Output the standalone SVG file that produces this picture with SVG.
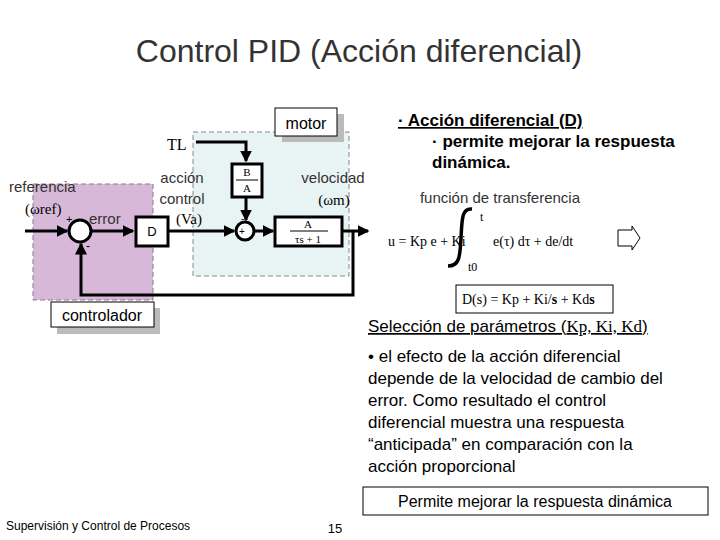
<svg xmlns="http://www.w3.org/2000/svg" width="720" height="540" viewBox="0 0 720 540">
<style>
.s{font-family:"Liberation Sans",Arial,sans-serif}
.m{font-family:"Liberation Serif","Times New Roman",serif}
.ln{stroke:#000;stroke-width:3;fill:none}
.bx{fill:#fff;stroke:#000;stroke-width:3}
</style>
<defs><marker id="a" markerWidth="4" markerHeight="4" refX="3.5" refY="2" orient="auto" markerUnits="strokeWidth"><path d="M0,0L4,2L0,4z" fill="#000"/></marker></defs>
<rect width="720" height="540" fill="#fff"/>
<text class="s" x="359" y="62" font-size="32" text-anchor="middle" fill="#333">Control PID (Acción diferencial)</text>
<g id="regions">
<rect x="33" y="184" width="120" height="116" fill="#d8b8d8" stroke="#8a7a8a" stroke-dasharray="5,3"/>
<rect x="193" y="132" width="156" height="144" fill="#e8f3f3" stroke="#888" stroke-dasharray="5,3"/>
</g>
<g id="connectors">
<path class="ln" d="M25,231H67" marker-end="url(#a)"/>
<path class="ln" d="M91,231H133" marker-end="url(#a)"/>
<path class="ln" d="M168,231H234" marker-end="url(#a)"/>
<path class="ln" d="M196,142H246V161" marker-end="url(#a)"/>
<path class="ln" d="M246,197V220" marker-end="url(#a)"/>
<path class="ln" d="M254,231H273" marker-end="url(#a)"/>
<path class="ln" d="M343,231H368" marker-end="url(#a)"/>
<path class="ln" d="M353,231V295H81V244" marker-end="url(#a)"/>
</g>
<g id="sum1"><circle cx="80" cy="231" r="11" class="bx"/><text class="s" x="66" y="223" font-size="11">+</text><text class="s" x="86" y="250" font-size="12">-</text></g>
<g id="D"><rect x="136" y="217" width="32" height="29" class="bx"/><text class="s" x="152" y="236" font-size="13" text-anchor="middle">D</text></g>
<g id="sum2"><circle cx="245" cy="231" r="9" class="bx"/><text class="s" x="239" y="235" font-size="10">+</text><text class="s" x="241" y="222" font-size="10">-</text></g>
<g id="BA"><rect x="232" y="164" width="30" height="33" class="bx"/><text class="m" x="247" y="176" font-size="11" text-anchor="middle">B</text><line x1="236" y1="180" x2="258" y2="180" stroke="#000"/><text class="m" x="247" y="192" font-size="11" text-anchor="middle">A</text></g>
<g id="G"><rect x="275" y="217" width="67" height="29" class="bx"/><text class="m" x="308" y="228" font-size="11" text-anchor="middle">A</text><line x1="290" y1="231" x2="328" y2="231" stroke="#000"/><text class="m" x="308" y="243" font-size="11" text-anchor="middle">τs + 1</text></g>
<g id="labels" class="s" font-size="15" fill="#333">
<text class="m" x="167" y="150" font-size="16" fill="#000">TL</text>
<text x="9" y="192">referencia</text>
<text class="m" x="25" y="214" fill="#000">(ωref)</text>
<text x="89" y="224">error</text>
<text x="182" y="183" text-anchor="middle">acción</text>
<text x="182" y="204" text-anchor="middle">control</text>
<text class="m" x="189" y="224" text-anchor="middle" fill="#000">(Va)</text>
<text x="333" y="183" text-anchor="middle">velocidad</text>
<text class="m" x="334" y="205" text-anchor="middle" fill="#000">(ωm)</text>
</g>
<g id="motorlbl"><rect x="282" y="114" width="62" height="28" fill="#bbb"/><rect x="275" y="108" width="62" height="28" fill="#fff" stroke="#000"/><text class="s" x="306" y="129" font-size="16" text-anchor="middle">motor</text></g>
<g id="ctrllbl"><rect x="57" y="308" width="103" height="26" fill="#bbb"/><rect x="51" y="302" width="103" height="25" fill="#fff" stroke="#000"/><text class="s" x="102" y="321" font-size="16" text-anchor="middle">controlador</text></g>
<g id="right" class="s" font-size="17">
<text x="398" y="126" font-weight="bold" text-decoration="underline">· Acción diferencial (D)</text>
<text x="432" y="147" font-weight="bold">· permite mejorar la respuesta</text>
<text x="432" y="168" font-weight="bold">dinámica.</text>
<text x="500" y="203" font-size="15" text-anchor="middle" fill="#333">función de transferencia</text>
<g class="m" font-size="14">
<text x="388" y="246">u = Kp e + Ki</text>
<path d="M472,209 C462,208 462,218 461,238 S459,266 448,266" stroke="#000" stroke-width="3.5" fill="none"/>
<text x="480" y="221" font-size="12">t</text>
<text x="468" y="271" font-size="12">t0</text>
<text x="493" y="246">e(τ) dτ  + de/dt</text>
<rect x="456" y="285" width="157" height="28" fill="#fff" stroke="#000"/>
<text x="462" y="304">D(s) = Kp + Ki/<tspan font-weight="bold">s</tspan> + Kd<tspan font-weight="bold">s</tspan></text>
</g>
<path d="M618,230H632V226L640,238L632,250V246H618Z" fill="#fff" stroke="#000"/>
<text x="368" y="332" text-decoration="underline">Selección de parámetros (<tspan class="m">Kp, Ki, Kd</tspan>)</text>
<text x="368" y="362">• el efecto de la acción diferencial</text>
<text x="368" y="384">depende de la velocidad de cambio del</text>
<text x="368" y="406">error.  Como resultado el control</text>
<text x="368" y="428">diferencial muestra una respuesta</text>
<text x="368" y="450">“anticipada” en comparación con la</text>
<text x="368" y="472">acción proporcional</text>
<rect x="363" y="487" width="345" height="28" fill="#fff" stroke="#000"/>
<text x="535" y="507" font-size="16" text-anchor="middle">Permite mejorar la respuesta dinámica</text>
</g>
<text class="s" x="6" y="530" font-size="12">Supervisión y Control de Procesos</text>
<text class="s" x="335" y="533" font-size="13" text-anchor="middle">15</text>
</svg>
